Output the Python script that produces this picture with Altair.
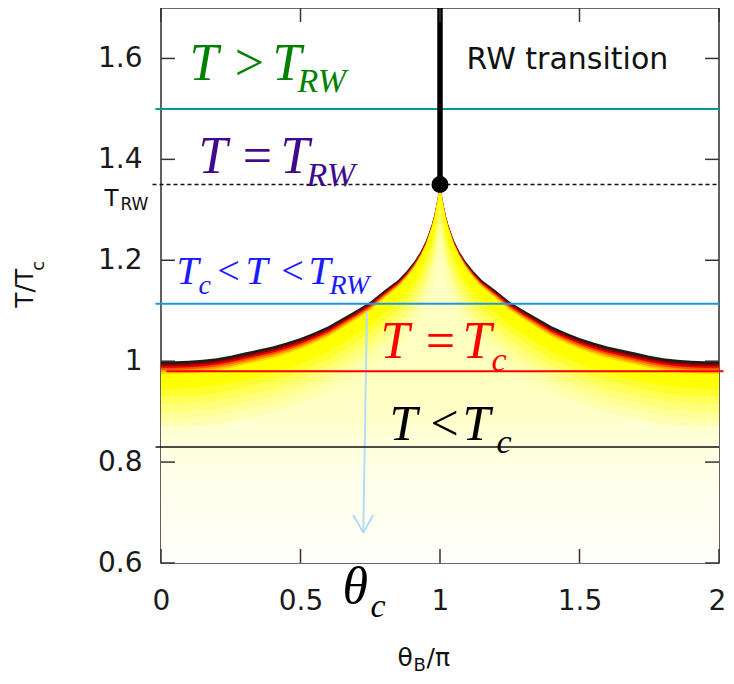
import altair as alt
import pandas as pd

# ---------------- values ----------------
theta_pi = [0.0, 0.05, 0.1, 0.15, 0.2, 0.25, 0.3, 0.35, 0.4, 0.45, 0.5, 0.55, 0.6, 0.65,
            0.7, 0.75, 0.8, 0.85, 0.88, 0.91, 0.93, 0.95, 0.97, 0.98, 0.99, 1.0,
            1.01, 1.02, 1.03, 1.05, 1.07, 1.09, 1.12, 1.15, 1.2, 1.25, 1.3, 1.35, 1.4,
            1.45, 1.5, 1.55, 1.6, 1.65, 1.7, 1.75, 1.8, 1.85, 1.9, 1.95, 2.0]
T_edge = [1.000, 1.000, 1.001, 1.003, 1.006, 1.011, 1.017, 1.023, 1.029, 1.037, 1.046,
          1.057, 1.069, 1.085, 1.101, 1.118, 1.140, 1.161, 1.178, 1.199, 1.217, 1.239,
          1.270, 1.290, 1.318, 1.350,
          1.318, 1.290, 1.270, 1.239, 1.217, 1.199, 1.178, 1.161, 1.140, 1.118, 1.101,
          1.085, 1.069, 1.057, 1.046, 1.037, 1.029, 1.023, 1.017, 1.011, 1.006, 1.003,
          1.001, 1.000, 1.000]
theta_RW = 1.0
T_RW = 1.35
T_above = 1.5
T_between = 1.114
T_at_c = 0.98
T_below = 0.83
theta_c = 0.725
arrow_start_T = 1.097
arrow_tip_T = 0.66
x_tick_values = [0, 0.5, 1, 1.5, 2]
y_tick_values = [0.6, 0.8, 1.0, 1.2, 1.4, 1.6]

# ---------------- layout helpers ----------------
X_DOM = [0, 2]
Y_DOM = [0.6, 1.7]
W, H = 558, 555


def dx(px):
    return (px - 160.5) / 279.0


def dy(py):
    return 1.6 - (py - 57.0) / 506.0


xs = alt.Scale(domain=X_DOM, nice=False, zero=False)
ys = alt.Scale(domain=Y_DOM, nice=False, zero=False)
xax = alt.Axis(values=x_tick_values, format="~g", title=None, ticks=False, domain=False,
               grid=False, labelFontSize=28, labelFont="DejaVu Sans", labelColor="#1a1a1a",
               labelPadding=24, labelFlush=False, labelOverlap=False,
               labelOffset={"condition": {"test": "datum.value == 2", "value": -2},
                            "value": 0})
yax = alt.Axis(values=y_tick_values, format="~g", title=None, ticks=False, domain=False,
               grid=False, labelFontSize=28, labelFont="DejaVu Sans", labelColor="#1a1a1a",
               labelPadding=19, labelOverlap=False)


def X(f):
    return alt.X(f, scale=xs, axis=xax)


def Y(f):
    return alt.Y(f, scale=ys, axis=yax)


curve = pd.DataFrame({"theta": theta_pi, "T": T_edge})

layers = []

# base pale fill under the transition curve
base = alt.Chart(curve).transform_calculate(bottom=str(Y_DOM[0])).mark_area(
    color=alt.Gradient(
        gradient="linear",
        stops=[alt.GradientStop(color="#ffffc2", offset=0),
               alt.GradientStop(color="#ffffc0", offset=0.53),
               alt.GradientStop(color="#ffffcc", offset=0.62),
               alt.GradientStop(color="#ffffde", offset=0.69),
               alt.GradientStop(color="#ffffec", offset=0.8),
               alt.GradientStop(color="#fffff8", offset=1)],
        x1=0, x2=0, y1=0, y2=1),
    interpolate="linear").encode(x=X("theta:Q"), y=Y("T:Q"), y2="bottom:Q")
layers.append(base)

# coloured bands just below the curve (heat-map edge); the dark part thins towards the cusp
band_tops = [0.0, 0.005, 0.009, 0.013, 0.017, 0.021, 0.025, 0.055, 0.070, 0.085, 0.100, 0.115]
band_colors = ["#1c1c1c", "#8b0000", "#e00000", "#ff5000", "#ff9a00", "#ffd000",
               "#ffff00", "#ffff30", "#ffff58", "#ffff7c", "#ffff98", "#ffffb0"]
band_depth = 0.13
DARK = 0.025
fexpr = "((1.36 - datum.T) / 0.36)"


def off_expr(o):
    a = min(o, DARK)
    b = max(o - DARK, 0.0)
    return f"({a} * {fexpr} + {b})"


for i, (o, c) in enumerate(zip(band_tops, band_colors)):
    if i + 1 < len(band_tops):
        bot = f"datum.T - {off_expr(band_tops[i + 1])} - 0.003"
    else:
        bot = f"datum.T - {band_depth}"
    layers.append(
        alt.Chart(curve).transform_calculate(
            top=f"datum.T - {off_expr(o)}", bot=bot
        ).mark_area(color=c, interpolate="linear").encode(
            x=X("theta:Q"), y=Y("top:Q"), y2="bot:Q"))

# light blue arrow at theta_c
arrow = pd.DataFrame({
    "x1": [theta_c + 0.013, theta_c, theta_c],
    "x2": [theta_c, theta_c - 0.036, theta_c + 0.036],
    "y1": [arrow_start_T, arrow_tip_T, arrow_tip_T],
    "y2": [arrow_tip_T, arrow_tip_T + 0.035, arrow_tip_T + 0.035],
})
layers.append(alt.Chart(arrow).mark_rule(color="#b4dcf8", strokeWidth=2).encode(
    x=X("x1:Q"), x2="x2:Q", y=Y("y1:Q"), y2="y2:Q"))


def hline(level, xa, xb, color, width, dash=None):
    df = pd.DataFrame({"y": [level], "x1": [xa], "x2": [xb]})
    kw = dict(color=color, strokeWidth=width)
    if dash:
        kw["strokeDash"] = dash
    return alt.Chart(df).mark_rule(**kw).encode(x=X("x1:Q"), x2="x2:Q", y=Y("y:Q"))


layers.append(hline(T_above, dx(155), 2.0, "#009a9a", 2))
layers.append(hline(T_between, dx(155), 2.0, "#1e96e6", 2))
layers.append(hline(T_at_c, dx(166), dx(723), "#ff0000", 2))
layers.append(hline(T_below, dx(155), 2.0, "#111111", 1.6))
layers.append(hline(T_RW, dx(152), 2.0, "#111111", 1.5, [4, 3]))

# RW transition line and end point
vt = pd.DataFrame({"x": [theta_RW], "y1": [T_RW], "y2": [Y_DOM[1]]})
layers.append(alt.Chart(vt).mark_rule(color="black", strokeWidth=5.5).encode(
    x=X("x:Q"), y=Y("y1:Q"), y2="y2:Q"))
layers.append(alt.Chart(pd.DataFrame({"x": [theta_RW], "y": [T_RW]})).mark_circle(
    color="black", size=290, opacity=1).encode(x=X("x:Q"), y=Y("y:Q")))

# inward ticks on all four sides
tx, ty = 0.05, 0.0277
tick_rows = []
for v in x_tick_values:
    tick_rows.append((v, v, Y_DOM[0], Y_DOM[0] + ty))
    tick_rows.append((v, v, Y_DOM[1] - ty, Y_DOM[1]))
for v in y_tick_values:
    tick_rows.append((X_DOM[0], X_DOM[0] + tx, v, v))
    tick_rows.append((X_DOM[1] - tx, X_DOM[1], v, v))
ticks = pd.DataFrame(tick_rows, columns=["x1", "x2", "y1", "y2"])
layers.append(alt.Chart(ticks).mark_rule(color="#333333", strokeWidth=1.5).encode(
    x=X("x1:Q"), x2="x2:Q", y=Y("y1:Q"), y2="y2:Q"))

# ---------------- text ----------------
GREEN, PURPLE, BLUE, RED, BLK = "#008000", "#3f0a8c", "#1a1aff", "#ff0000", "#000000"

italic_pieces = [
    ("T", 189, 79, 52, GREEN), ("T", 272, 79, 52, GREEN), ("RW", 297, 91, 34, GREEN),
    ("T", 198, 172, 52, PURPLE), ("T", 280, 172, 52, PURPLE), ("RW", 306, 185, 34, PURPLE),
    ("T", 176, 283, 40, BLUE), ("c", 198, 293, 28, BLUE), ("T", 245, 283, 40, BLUE),
    ("T", 308, 283, 40, BLUE), ("RW", 329, 293, 28, BLUE),
    ("T", 380, 357, 52, RED), ("T", 462, 357, 52, RED), ("c", 491, 370, 34, RED),
    ("T", 389, 440, 50, BLK), ("T", 462, 440, 50, BLK), ("c", 496, 453, 34, BLK),
    ("θ", 342, 603, 52, BLK), ("c", 370, 617, 34, BLK),
]
upright_pieces = [
    (">", 249, 79, 52, GREEN), ("=", 257, 172, 52, PURPLE),
    ("<", 228, 283, 40, BLUE), ("<", 292, 283, 40, BLUE),
    ("=", 440, 357, 52, RED), ("<", 444, 440, 50, BLK),
]
sans_pieces = [
    ("RW transition", 466, 68, 30, "#111111"),
    ("T", 104, 205, 23, "#111111"), ("RW", 120, 209, 17, "#111111"),
    ("θ", 397, 666, 25, "#111111"), ("B", 413, 671, 18, "#111111"),
    ("/π", 426, 666, 25, "#111111"),
]
rot_pieces = [("T/T", 32, 307, 25, "#111111"), ("c", 43, 270, 18, "#111111")]


def text_layer(pieces, font, style="normal", align="left", angle=0):
    df = pd.DataFrame({
        "txt": [p[0] for p in pieces],
        "x": [dx(p[1]) for p in pieces],
        "y": [dy(p[2]) for p in pieces],
        "fs": [p[3] for p in pieces],
        "col": [p[4] for p in pieces],
    })
    return alt.Chart(df).mark_text(font=font, fontStyle=style, align=align,
                                   baseline="alphabetic", angle=angle).encode(
        x=X("x:Q"), y=Y("y:Q"), text="txt:N",
        size=alt.Size("fs:Q", scale=None, legend=None),
        color=alt.Color("col:N", scale=None, legend=None))


layers.append(text_layer(italic_pieces, "Liberation Serif", "italic"))
layers.append(text_layer(upright_pieces, "Liberation Serif", "normal", "center"))
layers.append(text_layer(sans_pieces, "DejaVu Sans"))
layers.append(text_layer(rot_pieces, "DejaVu Sans", angle=270))

chart = alt.layer(*layers).properties(
    width=W, height=H,
    autosize=alt.AutoSizeParams(type="none"),
    padding={"left": 153, "top": 0, "right": 7, "bottom": 113},
    background="white",
).configure_view(stroke="#3a3a3a", strokeWidth=1.6)

chart.save("out.html", embed_options={"renderer": "svg", "actions": False})
